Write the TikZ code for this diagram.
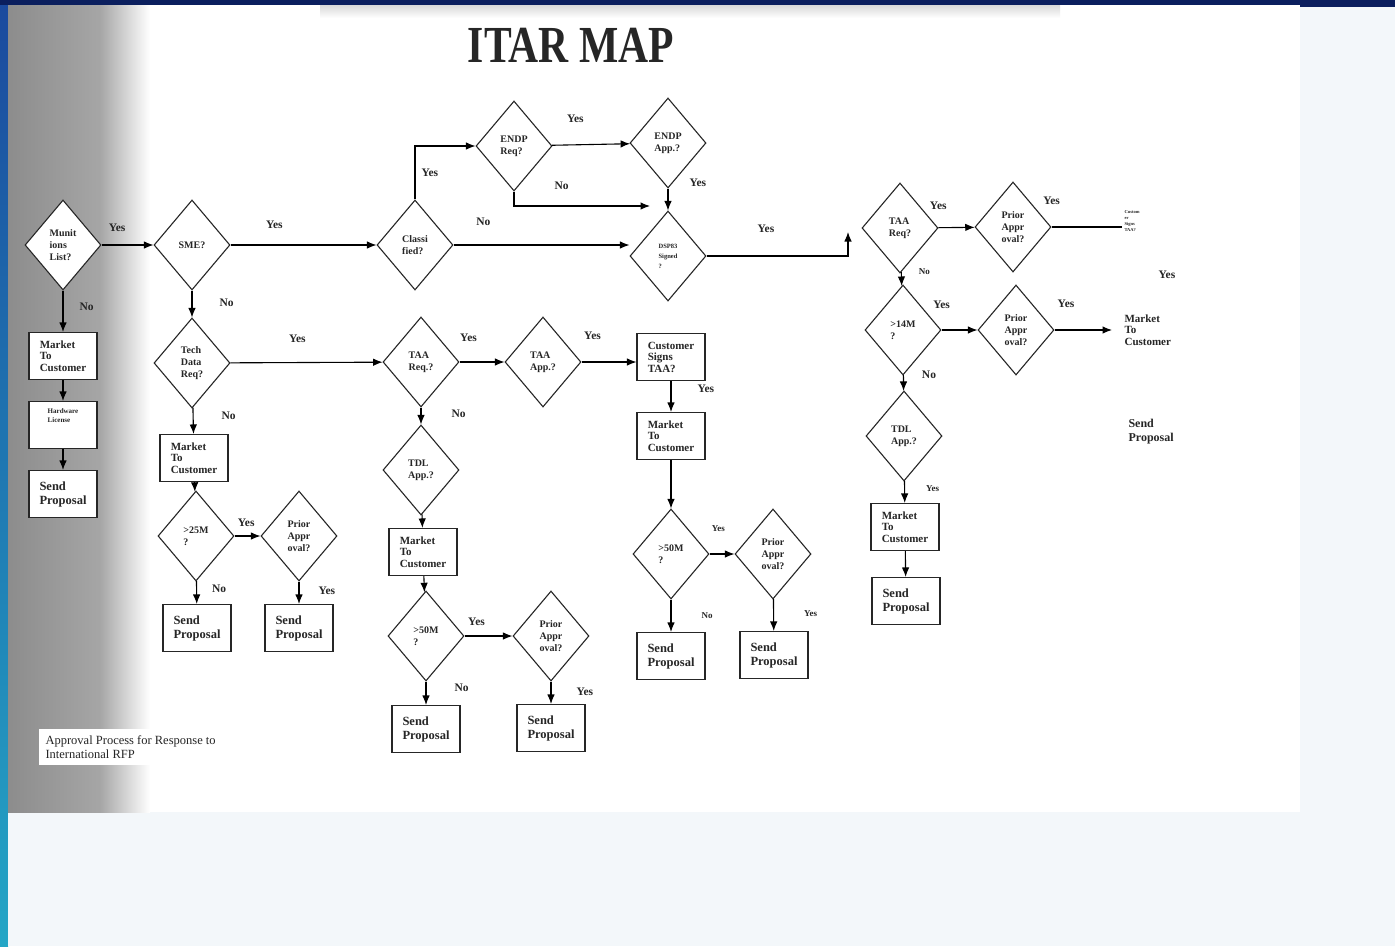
\documentclass[tikz,border=0pt]{standalone}
\usepackage{fontspec}
\setmainfont{Liberation Serif}
\usepackage{tikz}
\usetikzlibrary{shapes.geometric}
\usetikzlibrary{arrows.meta}
\usepackage{xcolor}
\definecolor{navy}{HTML}{0B1F5E}
\definecolor{scanbg}{HTML}{F3F7FA}
\definecolor{ink}{HTML}{262626}
\definecolor{edgeblue}{HTML}{1B4A9E}
\definecolor{edgeteal}{HTML}{24A6C6}

\begin{document}
\begin{tikzpicture}[x=1pt, y=-1pt, line width=1.1pt,
	>={Latex[length=9.5pt,width=7.5pt]},
	every node/.style={text=ink, font=\bfseries},
	dec/.style={diamond, draw=ink, fill=white, minimum width=76pt, minimum height=90pt, inner sep=0pt, align=left, font=\bfseries\fontsize{10}{12}\selectfont},
	box/.style={rectangle, draw=ink, fill=white, minimum width=68pt, minimum height=47pt, inner sep=2pt, align=left, font=\bfseries\fontsize{11}{11.5}\selectfont},
	sendbox/.style={box, font=\bfseries\fontsize{12.5}{14}\selectfont},
	lbl/.style={font=\bfseries\fontsize{11.5}{12}\selectfont, inner sep=0pt},
	smalllbl/.style={font=\bfseries\fontsize{9}{10}\selectfont, inner sep=0pt}]
	\useasboundingbox (0,0) rectangle (1395,946);
	% Page
	\fill[navy] (0,0) rectangle (1395,946);
	\shade[top color=edgeblue, bottom color=edgeteal] (0,5) rectangle (8,946);
	\fill[scanbg] (8,7) rectangle (1395,946);
	\fill[white] (8,5) rectangle (1300,812);
	\shade[left color=black!45, right color=black!35] (8,5) rectangle (100,812);
	\shade[left color=black!35, right color=white] (100,5) rectangle (150,812);
	\shade[top color=black!15, bottom color=white] (320,5) rectangle (1060,18);
	
	% Title and caption
	\node[font=\bfseries\fontsize{52}{52}\selectfont, xscale=0.8] (0) at (571,45) {ITAR MAP};
	\node[fill=white, font=\fontsize{12.5}{14}\selectfont, align=left, inner sep=7pt, anchor=west] (cap) at (38,747) {Approval Process for Response to\\International RFP};
	
	% Nodes
	\node[dec] (1) at (63,245) {Munit\\ions\\List?};
	\node[box] (2) at (63,356) {Market\\To\\Customer};
	\node[box, font=\bfseries\fontsize{7}{9}\selectfont] (3) at (63,425) {Hardware\\License\\\mbox{}\\\mbox{}};
	\node[sendbox] (4) at (63,494) {Send\\Proposal};
	
	\node[dec] (5) at (192,245) {SME?};
	\node[dec] (6) at (192,363) {Tech\\Data\\Req?};
	\node[box] (7) at (194,458) {Market\\To\\Customer};
	\node[dec] (8) at (196,536) {>25M\\?};
	\node[dec] (9) at (299,536) {Prior\\Appr\\oval?};
	\node[sendbox] (10) at (197,628) {Send\\Proposal};
	\node[sendbox] (11) at (299,628) {Send\\Proposal};
	
	\node[dec] (12) at (415,245) {Classi\\fied?};
	\node[dec] (13) at (514,146) {ENDP\\Req?};
	\node[dec] (14) at (668,143) {ENDP\\App.?};
	\node[dec, font=\bfseries\fontsize{6.5}{10}\selectfont] (15) at (668,256) {DSP83\\Signed\\?};
	
	\node[dec] (16) at (421,362) {TAA\\Req.?};
	\node[dec] (17) at (543,362) {TAA\\App.?};
	\node[box] (18) at (671,357) {Customer\\Signs\\TAA?};
	\node[dec] (19) at (421,470) {TDL\\App.?};
	\node[box] (20) at (423,552) {Market\\To\\Customer};
	\node[dec] (21) at (426,636) {>50M\\?};
	\node[dec] (22) at (551,636) {Prior\\Appr\\oval?};
	\node[sendbox] (23) at (426,729) {Send\\Proposal};
	\node[sendbox] (24) at (551,728) {Send\\Proposal};
	
	\node[box] (25) at (671,436) {Market\\To\\Customer};
	\node[dec] (26) at (671,554) {>50M\\?};
	\node[dec] (27) at (773,554) {Prior\\Appr\\oval?};
	\node[sendbox] (28) at (671,656) {Send\\Proposal};
	\node[sendbox] (29) at (774,655) {Send\\Proposal};
	
	\node[dec] (30) at (900,228) {TAA\\Req?};
	\node[dec] (31) at (1013,227) {Prior\\Appr\\oval?};
	\node[dec] (32) at (903,330) {>14M\\?};
	\node[dec] (33) at (1016,330) {Prior\\Appr\\oval?};
	\node[dec] (34) at (904,436) {TDL\\App.?};
	\node[box] (35) at (905,527) {Market\\To\\Customer};
	\node[sendbox] (36) at (906,601) {Send\\Proposal};
	
	\node[font=\bfseries\fontsize{4.5}{6}\selectfont, align=left, inner sep=2pt, anchor=west] (37) at (1122,221) {Custom\\er\\Signs\\TAA?};
	\node[lbl] (38) at (1167,275) {Yes};
	\node[font=\bfseries\fontsize{11}{11.5}\selectfont, align=left, inner xsep=12pt, anchor=west] (39) at (1112,330) {Market\\To\\Customer};
	\node[font=\bfseries\fontsize{12}{14}\selectfont, align=left, inner sep=0pt, anchor=west] (40) at (1128,432) {Send\\Proposal};
	
	\coordinate (c1) at (650,206);
	\coordinate (c2) at (848,232);
	
	% Edges with labels
	\draw[->] (1) -- (5) node[lbl, pos=0.3, above=13pt] {Yes};
	\draw[->] (1) -- (2) node[lbl, pos=0.4, right=16pt] {No};
	\draw[->] (2) -- (3);
	\draw[->] (3) -- (4);
	
	\draw[->] (5) -- (12) node[lbl, pos=0.3, above=16pt] {Yes};
	\draw[->] (5) -- (6) node[lbl, pos=0.47, right=27pt] {No};
	\draw[->] (6) -- (16) node[lbl, pos=0.44, above=19pt] {Yes};
	\draw[->] (6) -- (7) node[lbl, pos=0.3, right=28pt] {No};
	\draw[->] (7) -- (8);
	\draw[->] (8) -- (9) node[lbl, pos=0.45, above=9pt] {Yes};
	\draw[->] (8) -- (10) node[lbl, pos=0.35, right=15pt] {No};
	\draw[->] (9) -- (11) node[lbl, pos=0.4, right=19pt] {Yes};
	
	\draw[->] (12.north) |- (13.west) node[lbl, pos=0.25, right=6pt] {Yes};
	\draw[->] (12.east) -- (12.east -| 15.west) node[lbl, pos=0.17, above=19pt] {No};
	\draw[->] (13) -- (14) node[lbl, pos=0.3, above=22pt] {Yes};
	\draw[->] (13.south) |- (c1) node[lbl, pos=0.675, above=16pt] {No};
	\draw[->] (14) -- (15) node[lbl, pos=0, anchor=south west, xshift=21pt, yshift=1pt] {Yes};
	\draw[->] (15.east) -| (c2) node[lbl, pos=0.21, above=23pt] {Yes};
	
	\draw[->] (16) -- (17) node[lbl, pos=0.2, above=20pt] {Yes};
	\draw[->] (17) -- (17 -| 18.west) node[lbl, pos=0.2, above=22pt] {Yes};
	\draw[->] (16) -- (19) node[lbl, pos=0.37, right=30pt] {No};
	\draw[->] (19) -- (20);
	\draw[->] (20) -- (21);
	\draw[->] (21) -- (22) node[lbl, pos=0.25, above=10pt] {Yes};
	\draw[->] (21) -- (23) node[lbl, pos=0.25, right=28pt] {No};
	\draw[->] (22) -- (24) node[lbl, pos=0.45, right=25pt] {Yes};
	
	\draw[->] (18) -- (25) node[lbl, pos=0.25, right=26pt] {Yes};
	\draw[->] (25) -- (26);
	\draw[->] (26) -- (27) node[smalllbl, pos=0.35, above=22pt] {Yes};
	\draw[->] (26) -- (28) node[smalllbl, pos=0.5, right=30pt] {No};
	\draw[->] (27) -- (29) node[smalllbl, pos=0.45, right=30pt] {Yes};
	
	\draw[->] (30) -- (31) node[lbl, pos=0, above=18pt] {Yes};
	\draw (31.east) -- (31.east -| 37.west) node[lbl, pos=0, above=22pt] {Yes};
	\draw[->] (30) -- (32) node[smalllbl, pos=0, right=17pt] {No};
	\draw[->] (32) -- (33) node[lbl, pos=0, above=21pt] {Yes};
	\draw[->] (33) -- (39) node[lbl, pos=0.2, above=22pt] {Yes};
	\draw[->] (32) -- (34) node[lbl, pos=0, right=18pt] {No};
	\draw[->] (34) -- (35) node[smalllbl, pos=0.35, right=21pt] {Yes};
	\draw[->] (35) -- (36);
\end{tikzpicture}
\end{document}
